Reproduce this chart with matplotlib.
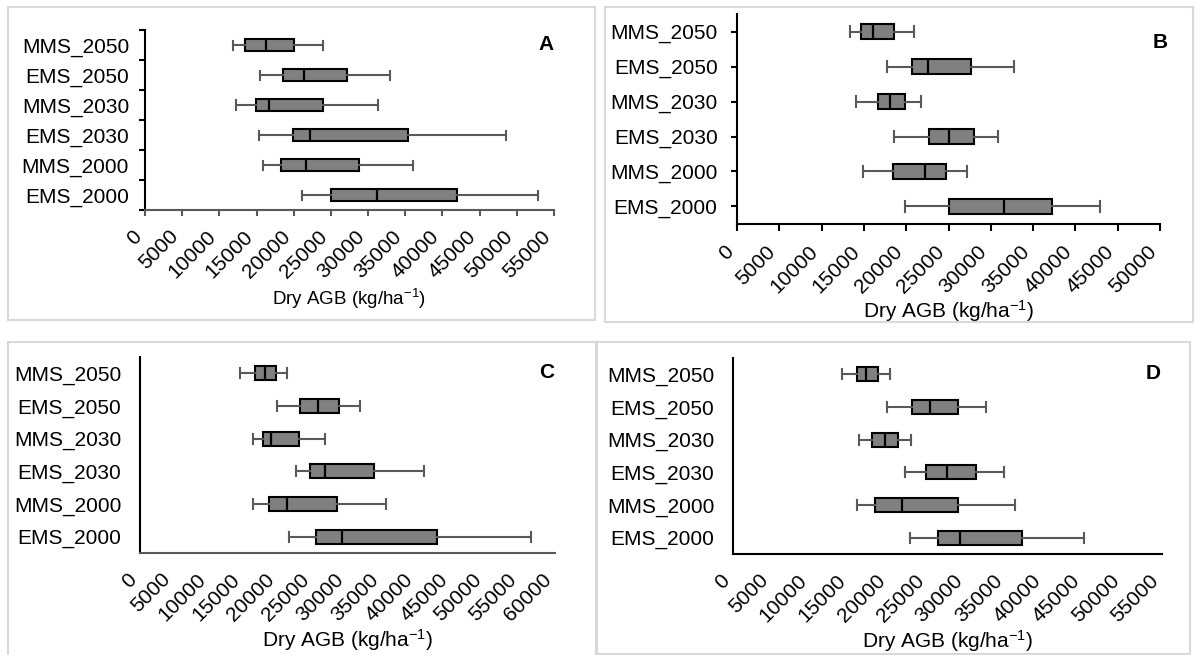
import matplotlib
matplotlib.use('Agg')
import matplotlib.pyplot as plt
from matplotlib.patches import Rectangle

plt.rcParams['font.family'] = ['Liberation Sans', 'DejaVu Sans']
plt.rcParams['mathtext.fontset'] = 'custom'
plt.rcParams['mathtext.rm'] = 'Liberation Sans'
plt.rcParams['mathtext.it'] = 'Liberation Sans:italic'
plt.rcParams['mathtext.bf'] = 'Liberation Sans:bold'

# scenarios, listed bottom to top
scenarios = ['EMS_2000', 'MMS_2000', 'EMS_2030', 'MMS_2030', 'EMS_2050', 'MMS_2050']

# dry above-ground biomass summaries (kg/ha) per panel
a_lo = [21100, 15900, 15300, 12200, 15400, 11800]
a_q1 = [25000, 18300, 19900, 14900, 18500, 13500]
a_med = [31200, 21600, 22200, 16700, 21400, 16300]
a_q3 = [42000, 28800, 35400, 24000, 27200, 20100]
a_hi = [52900, 36000, 48600, 31300, 33000, 24000]

b_lo = [19800, 14900, 18600, 14100, 17700, 13300]
b_q1 = [25000, 18400, 22700, 16700, 20700, 14600]
b_med = [31600, 22200, 25100, 18100, 22600, 16100]
b_q3 = [37200, 24700, 28000, 19900, 27700, 18500]
b_hi = [42900, 27200, 30800, 21700, 32800, 20900]

c_lo = [21500, 16400, 22500, 16400, 19800, 14500]
c_q1 = [25500, 18600, 24600, 17800, 23200, 16600]
c_med = [29200, 21300, 26700, 19000, 25700, 18100]
c_q3 = [43000, 28500, 33900, 23000, 28700, 19600]
c_hi = [56500, 35600, 41000, 26800, 31800, 21300]

d_lo = [22700, 15900, 22000, 16100, 19700, 14000]
d_q1 = [26300, 18200, 24800, 17800, 22900, 15900]
d_med = [29100, 21700, 27500, 19500, 25200, 17000]
d_q3 = [37100, 28900, 31200, 21100, 28800, 18600]
d_hi = [45000, 36100, 34800, 22800, 32400, 20100]

x_max = {'A': 55000, 'B': 50000, 'C': 60000, 'D': 55000}

W, H = 1195, 655
fig = plt.figure(figsize=(W / 100, H / 100), dpi=100)


def px_axes(left, top, right, bottom):
    return fig.add_axes([left / W, 1 - bottom / H, (right - left) / W, (bottom - top) / H])


def frame(left, top, right, bottom):
    fig.add_artist(Rectangle((left / W, 1 - bottom / H), (right - left) / W, (bottom - top) / H,
                             transform=fig.transFigure, fill=False, ec='#d9d9d9', lw=1.5))


frame(8, 7, 595, 320)
frame(605, 7, 1193, 322)
frame(8, 342, 597, 660)
frame(596, 342, 1190, 654)

panels = [
    ('A', (145, 30, 554, 210), (a_lo, a_q1, a_med, a_q3, a_hi)),
    ('B', (737, 14, 1160, 224), (b_lo, b_q1, b_med, b_q3, b_hi)),
    ('C', (140, 357, 555, 553), (c_lo, c_q1, c_med, c_q3, c_hi)),
    ('D', (733, 358, 1162, 554), (d_lo, d_q1, d_med, d_q3, d_hi)),
]

for letter, box, (lo, q1, med, q3, hi) in panels:
    ax = px_axes(*box)
    stats = [dict(whislo=lo[i], q1=q1[i], med=med[i], q3=q3[i], whishi=hi[i], label=scenarios[i])
             for i in range(len(scenarios))]
    ax.bxp(stats, positions=range(1, 7), orientation='horizontal', widths=0.43, capwidths=0.3,
           showfliers=False, patch_artist=True,
           boxprops=dict(facecolor='#808080', edgecolor='black', linewidth=1.5),
           medianprops=dict(color='black', linewidth=1.6),
           whiskerprops=dict(color='#595959', linewidth=1.5),
           capprops=dict(color='#595959', linewidth=1.5))

    xm = x_max[letter]
    ax.set_xlim(0, xm)
    ax.set_ylim(0.5, 6.5)
    ax.set_xticks(range(0, xm + 1, 5000))
    ax.set_xticklabels([str(v) for v in range(0, xm + 1, 5000)], rotation=45,
                       ha='right', va='top', fontsize=15)
    ax.set_yticks(range(1, 7))
    ax.set_yticklabels(scenarios, fontsize=15)

    for s in ('top', 'right'):
        ax.spines[s].set_visible(False)
    ax.spines['left'].set_color('black')
    ax.spines['left'].set_linewidth(1.5)
    ax.spines['bottom'].set_linewidth(1.5)

    if letter == 'A':
        ax.spines['bottom'].set_color('#595959')
        ax.set_yticks([i + 0.5 for i in range(0, 7)], minor=True)
        ax.tick_params(axis='y', which='major', length=0, pad=11.5)
        ax.tick_params(axis='y', which='minor', length=4, width=1.5, color='black')
        ax.tick_params(axis='x', length=4, width=1.5, color='#595959', pad=8)
        ax.set_xlabel('Dry AGB (kg/ha$^{-1}$)', fontsize=13.5, labelpad=4)
    elif letter == 'B':
        ax.spines['bottom'].set_color('black')
        ax.tick_params(axis='y', length=4, width=1.5, pad=10)
        ax.tick_params(axis='x', length=5, width=1.5, pad=8)
        ax.set_xlabel('Dry AGB (kg/ha$^{-1}$)', fontsize=15, labelpad=1)
    else:
        ax.spines['bottom'].set_color('#595959' if letter == 'C' else 'black')
        ax.tick_params(axis='y', length=0, pad=13.5)
        ax.tick_params(axis='x', length=0, pad=12)
        ax.set_xlabel('Dry AGB (kg/ha$^{-1}$)', fontsize=15, labelpad=2)

    ax.text(0.98 if letter != 'B' else 1.0, 0.97 if letter != 'B' else 0.91, letter,
            transform=ax.transAxes, fontsize=15, fontweight='bold', ha='center', va='top')

fig.savefig('out.png', dpi=100)
